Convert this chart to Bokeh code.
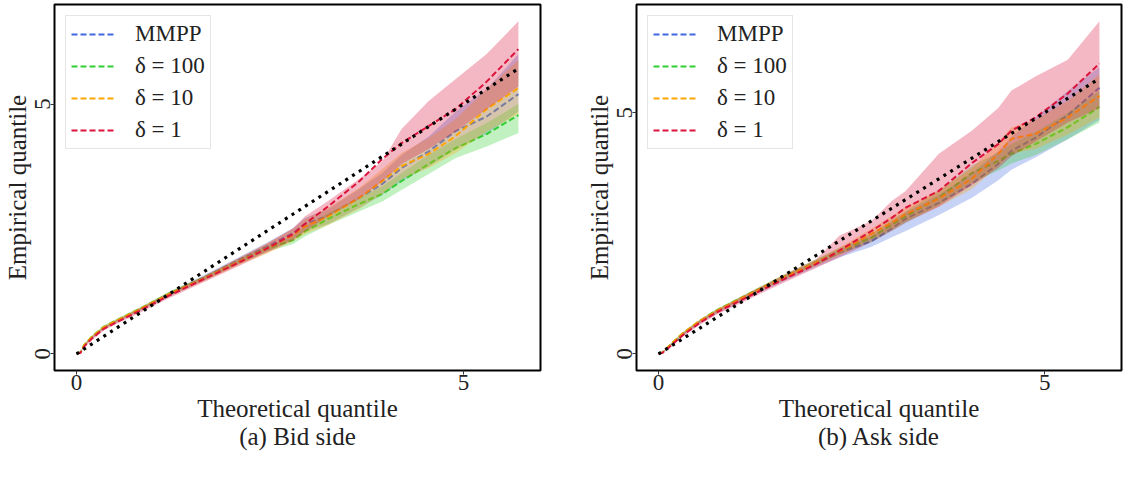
from bokeh.plotting import figure
from bokeh.models import Range1d, FixedTicker, Title, Legend
from bokeh.layouts import row
from bokeh.embed import file_html
from bokeh.resources import INLINE

# ---------------- data: Bid side ----------------
bid_x = [0, 0.05, 0.1, 0.2, 0.35, 0.5, 0.8, 1.2, 1.65, 2.1, 2.45, 2.8, 2.95, 3.25, 3.65, 3.95, 4.2, 4.55, 4.9, 5.3, 5.71]
bid_mmpp = [0, 0.03, 0.17, 0.33, 0.52, 0.64, 0.87, 1.2, 1.53, 1.88, 2.14, 2.42, 2.6, 2.76, 3.12, 3.4, 3.72, 4.05, 4.46, 4.75, 5.2]
bid_mmpp_lo = [0, 0.02, 0.15, 0.3, 0.49, 0.61, 0.84, 1.15, 1.47, 1.8, 2.04, 2.3, 2.45, 2.6, 2.92, 3.18, 3.45, 3.75, 4.1, 4.4, 4.85]
bid_mmpp_hi = [0, 0.04, 0.19, 0.36, 0.55, 0.67, 0.9, 1.24, 1.58, 1.94, 2.22, 2.52, 2.72, 2.9, 3.3, 3.62, 3.98, 4.35, 4.85, 5.3, 6.0]
bid_d100 = [0, 0.03, 0.18, 0.35, 0.54, 0.66, 0.89, 1.21, 1.52, 1.85, 2.1, 2.28, 2.45, 2.7, 3.0, 3.2, 3.46, 3.8, 4.12, 4.4, 4.78]
bid_d100_lo = [0, 0.02, 0.16, 0.33, 0.51, 0.63, 0.86, 1.17, 1.48, 1.8, 2.04, 2.2, 2.35, 2.58, 2.85, 3.05, 3.28, 3.6, 3.92, 4.15, 4.42]
bid_d100_hi = [0, 0.04, 0.2, 0.37, 0.57, 0.69, 0.92, 1.25, 1.56, 1.9, 2.16, 2.36, 2.55, 2.82, 3.12, 3.35, 3.62, 3.98, 4.3, 4.62, 5.0]
bid_d10 = [0, 0.03, 0.18, 0.34, 0.53, 0.65, 0.88, 1.2, 1.51, 1.85, 2.1, 2.38, 2.55, 2.75, 3.12, 3.46, 3.76, 4.0, 4.36, 4.9, 5.32]
bid_d10_lo = [0, 0.02, 0.16, 0.31, 0.5, 0.62, 0.85, 1.16, 1.46, 1.78, 2.0, 2.26, 2.4, 2.58, 2.9, 3.2, 3.5, 3.72, 4.02, 4.45, 4.8]
bid_d10_hi = [0, 0.04, 0.2, 0.37, 0.56, 0.68, 0.91, 1.24, 1.56, 1.92, 2.2, 2.5, 2.7, 2.92, 3.32, 3.7, 4.02, 4.32, 4.7, 5.3, 5.88]
bid_d1 = [0, 0.02, 0.15, 0.31, 0.5, 0.62, 0.85, 1.17, 1.5, 1.83, 2.1, 2.4, 2.6, 2.95, 3.45, 3.9, 4.22, 4.56, 4.9, 5.45, 6.1]
bid_d1_lo = [0, 0.01, 0.13, 0.28, 0.47, 0.59, 0.81, 1.12, 1.44, 1.76, 2.02, 2.28, 2.45, 2.75, 3.1, 3.45, 3.8, 4.1, 4.45, 4.9, 5.35]
bid_d1_hi = [0, 0.03, 0.18, 0.35, 0.54, 0.66, 0.9, 1.22, 1.56, 1.92, 2.2, 2.52, 2.75, 3.06, 3.5, 3.85, 4.5, 5.06, 5.5, 6.0, 6.66]

# ---------------- data: Ask side ----------------
ask_x = [0, 0.05, 0.14, 0.31, 0.53, 0.75, 1.18, 1.6, 2.04, 2.34, 2.76, 3.02, 3.2, 3.63, 4.06, 4.4, 4.57, 4.88, 5.3, 5.71]
ask_mmpp = [0, 0.03, 0.16, 0.4, 0.66, 0.87, 1.22, 1.55, 1.87, 2.1, 2.34, 2.6, 2.8, 3.13, 3.53, 3.94, 4.21, 4.48, 4.95, 5.52]
ask_mmpp_lo = [0, 0.02, 0.13, 0.37, 0.62, 0.83, 1.17, 1.49, 1.8, 2.0, 2.22, 2.42, 2.55, 2.88, 3.24, 3.6, 3.82, 4.07, 4.45, 4.85]
ask_mmpp_hi = [0, 0.04, 0.18, 0.43, 0.69, 0.9, 1.26, 1.6, 1.93, 2.17, 2.45, 2.73, 2.93, 3.3, 3.75, 4.2, 4.5, 4.9, 5.45, 5.95]
ask_d100 = [0, 0.03, 0.17, 0.42, 0.68, 0.9, 1.25, 1.58, 1.9, 2.13, 2.41, 2.68, 2.85, 3.24, 3.75, 4.0, 4.15, 4.35, 4.7, 5.12]
ask_d100_lo = [0, 0.02, 0.15, 0.39, 0.65, 0.86, 1.21, 1.53, 1.84, 2.06, 2.32, 2.56, 2.72, 3.08, 3.55, 3.8, 3.95, 4.12, 4.45, 4.8]
ask_d100_hi = [0, 0.04, 0.19, 0.45, 0.71, 0.93, 1.29, 1.63, 1.96, 2.2, 2.5, 2.78, 2.96, 3.38, 3.9, 4.18, 4.35, 4.6, 5.0, 5.45]
ask_d10 = [0, 0.03, 0.17, 0.42, 0.68, 0.89, 1.24, 1.57, 1.89, 2.12, 2.49, 2.72, 2.9, 3.22, 3.63, 4.15, 4.46, 4.56, 4.9, 5.35]
ask_d10_lo = [0, 0.02, 0.15, 0.39, 0.64, 0.85, 1.2, 1.52, 1.83, 2.04, 2.38, 2.58, 2.75, 3.05, 3.42, 3.9, 4.15, 4.25, 4.55, 4.9]
ask_d10_hi = [0, 0.04, 0.19, 0.45, 0.71, 0.92, 1.28, 1.62, 1.95, 2.2, 2.6, 2.86, 3.05, 3.4, 3.85, 4.4, 4.7, 4.85, 5.25, 5.8]
ask_d1 = [0, 0.02, 0.14, 0.38, 0.64, 0.86, 1.2, 1.53, 1.86, 2.14, 2.55, 2.82, 3.03, 3.38, 3.96, 4.35, 4.63, 4.9, 5.4, 6.02]
ask_d1_lo = [0, 0.01, 0.12, 0.35, 0.6, 0.81, 1.14, 1.46, 1.78, 2.0, 2.32, 2.55, 2.72, 3.05, 3.5, 3.85, 4.1, 4.4, 4.8, 5.1]
ask_d1_hi = [0, 0.03, 0.17, 0.42, 0.69, 0.91, 1.27, 1.62, 1.96, 2.45, 2.76, 3.17, 3.38, 4.15, 4.63, 5.1, 5.46, 5.75, 6.1, 6.9]

labels = ["MMPP", "δ = 100", "δ = 10", "δ = 1"]
colors = ["#4169E1", "#32CD32", "#FFA500", "#DC143C"]
ticks = [0, 5]
captions = ["(a) Bid side", "(b) Ask side"]

FONT = "Liberation Serif"


def make_panel(x, series, caption, width, border_left, border_right):
    allx = list(x)
    ally = [v for s in series for arr in s for v in arr]
    xmin, xmax = min(allx), max(allx)
    ymin, ymax = min(ally), max(ally)
    mx = 0.05 * (xmax - xmin)
    my = 0.05 * (ymax - ymin)
    p = figure(width=width, height=460, output_backend="svg", toolbar_location=None,
               x_range=Range1d(xmin - mx, xmax + mx), y_range=Range1d(ymin - my, ymax + my),
               min_border_left=border_left, min_border_right=border_right,
               min_border_top=4, min_border_bottom=90)
    p.grid.visible = False
    p.outline_line_color = "black"
    p.outline_line_width = 2
    p.background_fill_color = "white"
    p.border_fill_color = "white"

    items = []
    for (line, lo, hi), lab, col in zip(series, labels, colors):
        p.varea(x=x, y1=lo, y2=hi, fill_color=col, fill_alpha=0.3)
        r = p.line(x, line, line_color=col, line_width=2, line_dash="6 3")
        items.append((lab, [r]))
    p.line(x, x, line_color="black", line_width=3.2, line_dash="3 5")

    leg = Legend(items=items, location="top_left", margin=11)
    leg.label_text_font = FONT
    leg.label_text_font_size = "23px"
    leg.label_text_color = "#222222"
    leg.glyph_width = 45
    leg.glyph_height = 26
    leg.label_height = 26
    leg.label_standoff = 19
    leg.spacing = 6
    leg.padding = 5
    leg.border_line_color = "#cccccc"
    leg.border_line_width = 1
    leg.background_fill_alpha = 0.8
    p.add_layout(leg)

    for ax in (p.xaxis[0], p.yaxis[0]):
        ax.ticker = FixedTicker(ticks=ticks)
        ax.minor_tick_line_color = None
        ax.axis_line_color = None
        ax.major_tick_in = 0
        ax.major_tick_out = 4
        ax.major_tick_line_color = "#333333"
        ax.major_label_text_font = FONT
        ax.major_label_text_font_size = "23px"
        ax.major_label_text_color = "#222222"
        ax.axis_label_text_font = FONT
        ax.axis_label_text_font_size = "25px"
        ax.axis_label_text_font_style = "normal"
        ax.axis_label_text_color = "#222222"
        ax.major_label_standoff = 0
        ax.axis_label_standoff = 2
    p.xaxis[0].axis_label = "Theoretical quantile"
    p.yaxis[0].axis_label = "Empirical quantile"
    p.yaxis[0].major_label_orientation = "vertical"

    t = Title(text=caption, align="center", text_font=FONT, text_font_size="25px",
              text_font_style="normal", text_color="#222222", standoff=-8)
    p.add_layout(t, "below")
    return p


bid_series = [(bid_mmpp, bid_mmpp_lo, bid_mmpp_hi), (bid_d100, bid_d100_lo, bid_d100_hi),
              (bid_d10, bid_d10_lo, bid_d10_hi), (bid_d1, bid_d1_lo, bid_d1_hi)]
ask_series = [(ask_mmpp, ask_mmpp_lo, ask_mmpp_hi), (ask_d100, ask_d100_lo, ask_d100_hi),
              (ask_d10, ask_d10_lo, ask_d10_hi), (ask_d1, ask_d1_lo, ask_d1_hi)]

p1 = make_panel(bid_x, bid_series, captions[0], 560, 53, 20)
p2 = make_panel(ask_x, ask_series, captions[1], 563, 76, 2)

layout = row(p1, p2)
open("out.html", "w").write(file_html(layout, INLINE))
